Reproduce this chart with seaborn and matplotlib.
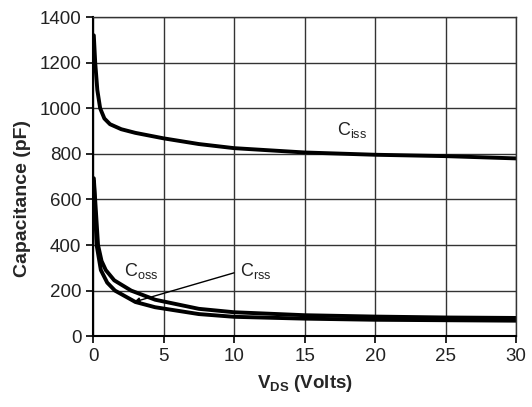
import numpy as np
import pandas as pd
import matplotlib
matplotlib.use("Agg")
import matplotlib.pyplot as plt
import seaborn as sns

vds_iss = [0.05, 0.15, 0.3, 0.5, 0.8, 1.2, 2, 3, 5, 7.5, 10, 15, 20, 25, 30]
ciss = [1320, 1200, 1080, 1000, 955, 930, 908, 892, 868, 843, 825, 806, 796, 790, 780]

vds_oss = [0.05, 0.35, 0.6, 0.9, 1.5, 2.7, 4.4, 7.5, 10, 15, 20, 25, 30]
coss = [693, 400, 330, 290, 245, 200, 160, 120, 105, 92, 86, 82, 80]

vds_rss = [0.05, 0.25, 0.55, 1.0, 1.55, 3, 4.4, 7.5, 10, 15, 20, 25, 30]
crss = [680, 400, 290, 235, 200, 150, 127, 97, 85, 77, 72, 70, 68]

x_ticks = [0, 5, 10, 15, 20, 25, 30]
y_ticks = [0, 200, 400, 600, 800, 1000, 1200, 1400]

df = pd.concat([
    pd.DataFrame({"V": vds_iss, "C": ciss, "s": "Ciss"}),
    pd.DataFrame({"V": vds_oss, "C": coss, "s": "Coss"}),
    pd.DataFrame({"V": vds_rss, "C": crss, "s": "Crss"}),
])

sns.set_style("white")
plt.rcParams['font.family'] = ['Liberation Sans', 'DejaVu Sans']
plt.rcParams['mathtext.fontset'] = 'custom'
plt.rcParams['mathtext.rm'] = 'Liberation Sans'
plt.rcParams['mathtext.bf'] = 'Liberation Sans:bold'

fig = plt.figure(figsize=(5.32, 4.07), dpi=100)
ax = fig.add_axes([0.175, 0.174, 0.795, 0.784])

sns.lineplot(data=df, x="V", y="C", hue="s", palette=["black"] * 3,
             linewidth=2.8, legend=False, ax=ax, sort=False)

ax.set_xlim(0, 30)
ax.set_ylim(0, 1400)
ax.set_xticks(x_ticks)
ax.set_yticks(y_ticks)
ax.grid(True, color="#333333", linewidth=1.0)
for s in ax.spines.values():
    s.set_color("#333333")
    s.set_linewidth(1.0)
ax.spines["left"].set_color("black")
ax.spines["bottom"].set_color("black")
ax.spines["left"].set_linewidth(1.5)
ax.spines["bottom"].set_linewidth(1.5)
ax.tick_params(axis="both", direction="out", length=5, width=1.2, color="black",
               labelsize=13.5, labelcolor="#222222", bottom=True, left=True)

ax.set_xlabel(r"V$_{\mathbf{DS}}$ (Volts)", fontsize=13.5, fontweight="bold", labelpad=6)
ax.set_ylabel("Capacitance (pF)", fontsize=14, fontweight="bold")
ax.yaxis.set_label_coords(-0.148, 0.43)

ax.text(17.3, 905, r"C$_{\rm iss}$", fontsize=13, color="#222222", ha="left", va="center")
ax.text(2.2, 285, r"C$_{\rm oss}$", fontsize=13, color="#222222", ha="left", va="center")
ax.text(10.4, 285, r"C$_{\rm rss}$", fontsize=13, color="#222222", ha="left", va="center")
ax.annotate("", xy=(2.9, 150), xytext=(10.0, 278),
            arrowprops=dict(arrowstyle="-|>", color="black", lw=1.0,
                            mutation_scale=8, shrinkA=0, shrinkB=0))

fig.savefig("out.png", dpi=100)
